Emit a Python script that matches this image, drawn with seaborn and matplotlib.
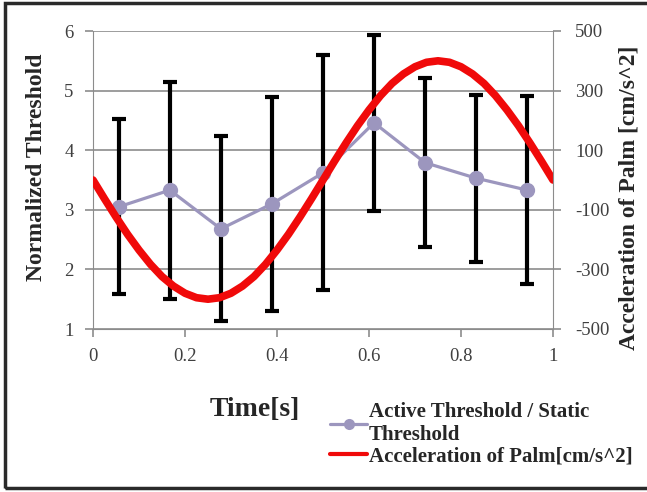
import numpy as np
import pandas as pd
import matplotlib.pyplot as plt
import matplotlib.patches as patches
from matplotlib.lines import Line2D
import seaborn as sns

# normalized threshold (active / static) with error bars
time_pts = [0.056, 0.167, 0.278, 0.389, 0.5, 0.611, 0.722, 0.833, 0.944]
thresh = [3.05, 3.33, 2.68, 3.10, 3.62, 4.46, 3.79, 3.53, 3.33]
thresh_err = [1.47, 1.82, 1.55, 1.80, 1.97, 1.48, 1.42, 1.40, 1.58]

# palm acceleration
acc_t = [i / 40 for i in range(41)]
acc = [0, -63, -124, -182, -235, -283, -324, -356, -380, -395, -400,
       -395, -380, -356, -324, -283, -235, -182, -124, -63, 0,
       63, 124, 182, 235, 283, 324, 356, 380, 395, 400,
       395, 380, 356, 324, 283, 235, 182, 124, 63, 0]

xticks = [0, 0.2, 0.4, 0.6, 0.8, 1]
xtick_labels = ["0", "0.2", "0.4", "0.6", "0.8", "1"]
left_ticks = [1, 2, 3, 4, 5, 6]
right_ticks = [-500, -300, -100, 100, 300, 500]

df_thr = pd.DataFrame({"t": time_pts, "thr": thresh, "err": thresh_err})
df_acc = pd.DataFrame({"t": acc_t, "acc": acc})

sns.set_style("white")
plt.rcParams["font.family"] = ["Liberation Serif", "DejaVu Serif"]
plt.rcParams["axes.unicode_minus"] = False

purple = "#9C96BE"
red = "#F00A0A"
grid_c = "#8C8C8C"
tick_c = "#404040"

fig = plt.figure(figsize=(6.47, 4.92), dpi=100)
ax = fig.add_axes([93 / 647, 1 - 329 / 492, 460 / 647, 298 / 492])
ax2 = ax.twinx()

ax.errorbar(df_thr["t"], df_thr["thr"], yerr=df_thr["err"], fmt="none",
            ecolor="black", elinewidth=3, capsize=5, capthick=3, zorder=2)
sns.lineplot(data=df_thr, x="t", y="thr", ax=ax, color=purple, linewidth=2.3,
             marker="o", markersize=11, markeredgewidth=0, zorder=3)
sns.lineplot(data=df_acc, x="t", y="acc", ax=ax2, color=red, linewidth=5.5)

ax.set_xlim(0, 1)
ax.set_ylim(1, 6)
ax2.set_ylim(-500, 500)
ax.set_xticks(xticks)
ax.set_xticklabels(xtick_labels)
ax.set_yticks(left_ticks)
ax2.set_yticks(right_ticks)
ax.set_xlabel("")
ax.set_ylabel("")
ax2.set_xlabel("")
ax2.set_ylabel("")

ax.grid(False)
ax2.grid(False)
for y in left_ticks:
    ax.axhline(y, color=grid_c, linewidth=1.2, zorder=1)

for a in (ax, ax2):
    for s in a.spines.values():
        s.set_visible(False)
ax.spines["left"].set_visible(True)
ax.spines["bottom"].set_visible(True)
ax2.spines["right"].set_visible(True)
ax.spines["left"].set_color(grid_c)
ax.spines["bottom"].set_color(grid_c)
ax2.spines["right"].set_color(grid_c)

ax.tick_params(axis="both", direction="out", length=6, width=1.2, color=grid_c,
               labelsize=13.5, labelcolor=tick_c, pad=6)
ax.tick_params(axis="x", pad=8)
ax.tick_params(axis="y", left=True, pad=8)
ax.tick_params(axis="x", bottom=True)
ax2.tick_params(axis="y", direction="out", length=6, width=1.2, color=grid_c,
                labelsize=13.5, labelcolor=tick_c, pad=10, right=True)

fig.text(37 / 647, 1 - 167 / 492, "Normalized Threshold", rotation=90,
         ha="center", va="center", fontsize=17, fontweight="bold")
fig.text(629 / 647, 1 - 198 / 492, "Acceleration of Palm [cm/s^2]", rotation=90,
         ha="center", va="center", fontsize=17, fontweight="bold")
fig.text(255 / 647, 1 - 410 / 492, "Time[s]", ha="center", va="center",
         fontsize=20, fontweight="bold")

handles = [Line2D([], [], color=purple, linewidth=2.3, marker="o", markersize=8,
                  markeredgewidth=0),
           Line2D([], [], color=red, linewidth=3)]
labels = ["Active Threshold / Static\nThreshold", "Acceleration of Palm[cm/s^2]"]
fig.legend(handles, labels, loc="upper left",
           bbox_to_anchor=(322 / 647, 1 - 394 / 492), frameon=False,
           prop={"size": 15, "weight": "bold"}, handlelength=1.75,
           handletextpad=0.1, labelspacing=0.05, borderaxespad=0)

# chart frame
fig.patches.append(patches.Rectangle((5 / 647, 4 / 492), 1.1, 1 - 7 / 492,
                                     transform=fig.transFigure, fill=False,
                                     edgecolor="#2a2a2a", linewidth=2.5))

fig.savefig("out.png", dpi=100)
